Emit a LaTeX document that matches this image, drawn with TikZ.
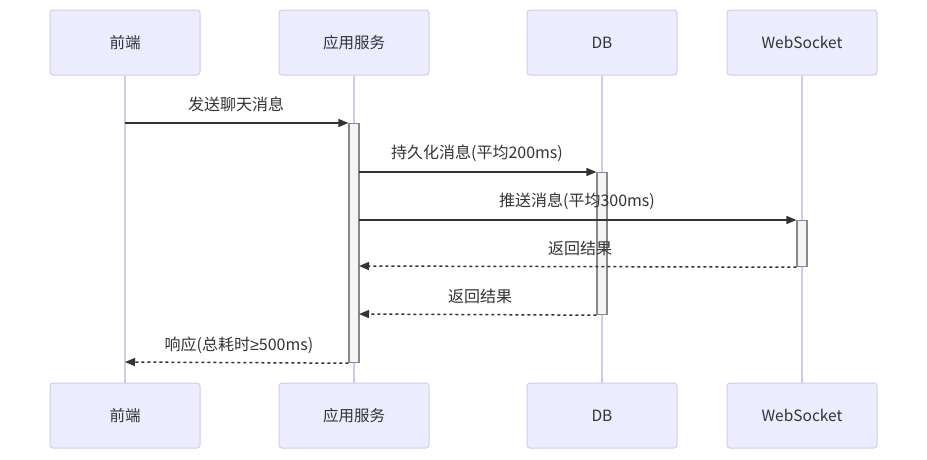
\documentclass[tikz,border=0pt]{standalone}
\usepackage{fontspec}
\setmainfont{Noto Sans CJK SC}
\newfontfamily\symfont{Liberation Sans}
\usetikzlibrary{arrows.meta}
\definecolor{actfill}{HTML}{ECECFF}
\definecolor{actline}{HTML}{D4C8F2}
\definecolor{txt}{HTML}{333333}
\definecolor{actvfill}{HTML}{F4F4F4}
\definecolor{actvline}{HTML}{888888}
\begin{document}
\begin{tikzpicture}[x=1pt,y=-1pt,
  actor/.style={draw=actline, fill=actfill, rounded corners=3pt, minimum width=150pt,
    minimum height=65pt, inner sep=0pt, font=\fontsize{15.5}{18}\selectfont, text=txt, line width=1pt},
  lifeline/.style={draw=actline, line width=1.2pt},
  actv/.style={draw=actvline, fill=actvfill, minimum width=10pt, inner sep=0pt, line width=1.2pt, anchor=north},
  msg/.style={draw=txt, line width=1.5pt, -{Triangle[length=10pt,width=8pt]}},
  ret/.style={msg, dash pattern=on 3pt off 3pt},
  lbl/.style={font=\fontsize{16}{19}\selectfont, text=txt, inner sep=0pt}
]
\useasboundingbox (0,0) rectangle (927,459);
% actors
\node[actor] (a1) at (125,42.5) {前端};
\node[actor] (a2) at (354,42.5) {应用服务};
\node[actor] (a3) at (602,42.5) {DB};
\node[actor] (a4) at (802,42.5) {WebSocket};
\node[actor] (b1) at (125,415.5) {前端};
\node[actor] (b2) at (354,415.5) {应用服务};
\node[actor] (b3) at (602,415.5) {DB};
\node[actor] (b4) at (802,415.5) {WebSocket};
% lifelines
\draw[lifeline] (a1.south) -- (b1.north);
\draw[lifeline] (a2.south) -- (b2.north);
\draw[lifeline] (a3.south) -- (b3.north);
\draw[lifeline] (a4.south) -- (b4.north);
% activations
\node[actv, minimum height=239pt] (vA) at (354,123) {};
\node[actv, minimum height=142pt] (vD) at (602,172) {};
\node[actv, minimum height=46pt] (vW) at (802,220) {};
% message end points
\coordinate (m1s) at (125,123);
\coordinate (m2s) at (359,172);
\coordinate (m3s) at (359,220);
\coordinate (m4e) at (359,266);
\coordinate (m5e) at (359,314);
\coordinate (m6e) at (125,362);
% messages
\draw[msg] (m1s) -- (vA.north west);
\draw[msg] (m2s) -- (vD.north west);
\draw[msg] (m3s) -- (vW.north west);
\draw[ret] (vW.south west) -- (m4e);
\draw[ret] (vD.south west) -- (m5e);
\draw[ret] (vA.south west) -- (m6e);
% labels
\node[lbl] (l1) at (236,104) {发送聊天消息};
\node[lbl] (l2) at (477,153) {持久化消息(平均200ms)};
\node[lbl] (l3) at (577,201) {推送消息(平均300ms)};
\node[lbl] (l4) at (580,248) {返回结果};
\node[lbl] (l5) at (480,296) {返回结果};
\node[lbl] (l6) at (239,345) {响应(总耗时{\symfont ≥}500ms)};
\end{tikzpicture}
\end{document}
